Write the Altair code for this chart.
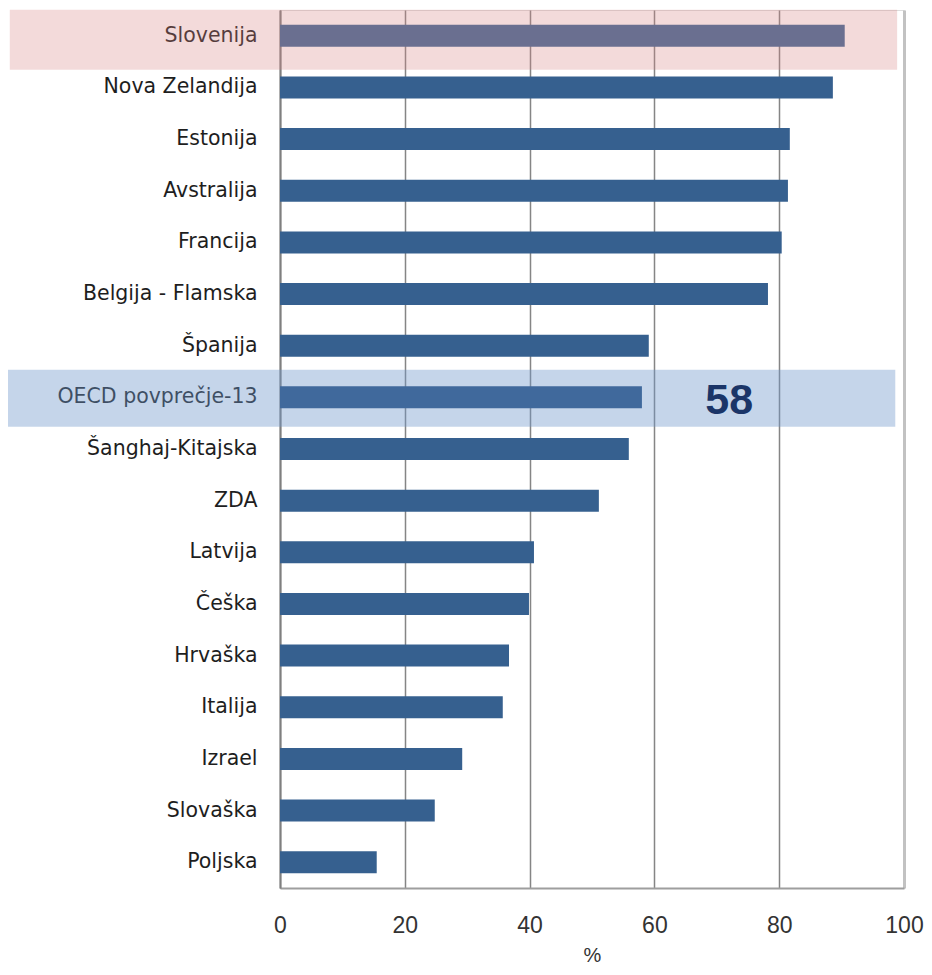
import altair as alt
import pandas as pd

countries = ["Slovenija", "Nova Zelandija", "Estonija", "Avstralija", "Francija",
             "Belgija - Flamska", "Španija", "OECD povprečje-13", "Šanghaj-Kitajska",
             "ZDA", "Latvija", "Češka", "Hrvaška", "Italija", "Izrael", "Slovaška", "Poljska"]
values = [90.5, 88.6, 81.7, 81.4, 80.4, 78.2, 59.1, 58.0, 55.9, 51.1,
          40.7, 39.9, 36.7, 35.7, 29.2, 24.8, 15.5]
highlight_slo = "Slovenija"
highlight_oecd = "OECD povprečje-13"
oecd_label = "58"
x_ticks = [0, 20, 40, 60, 80, 100]

def bar_color(c):
    if c == highlight_slo:
        return "#6A6F90"
    if c == highlight_oecd:
        return "#40699C"
    return "#36608F"

df = pd.DataFrame({"country": countries, "value": values,
                   "color": [bar_color(c) for c in countries]})

y_enc = alt.Y("country:N", sort=countries,
              scale=alt.Scale(paddingInner=0, paddingOuter=0),
              axis=alt.Axis(title=None, ticks=False, labelPadding=23,
                            labelFont="DejaVu Sans", labelFontSize=20.5,
                            labelColor="#1E1E1E", labelLimit=400,
                            domainColor="#7F7F7F", domainWidth=2,
                            grid=False))
x_scale = alt.Scale(domain=[0, 100], nice=False, zero=False)
x_axis = alt.Axis(title="%", values=x_ticks, ticks=False, labelPadding=26,
                  labelFont="Liberation Sans", labelFontSize=23, labelColor="#333333",
                  titleFont="Liberation Sans", titleFontSize=20, titleFontWeight="normal",
                  titleColor="#333333", titlePadding=8,
                  grid=True,
                  gridColor=alt.condition("datum.value === 100", alt.value("#C2C2C2"), alt.value("#858585")),
                  gridWidth=alt.condition("datum.value === 100", alt.value(3), alt.value(1.5)),
                  domainColor="#9E9E9E", domainWidth=2, labelFlush=False)

bands = pd.DataFrame({
    "country": [highlight_slo, highlight_oecd],
    "x0": [-43.3, -43.6],
    "x1": [98.9, 98.6],
})

pink = alt.Chart(bands[bands.country == highlight_slo]).mark_bar(
    size=60, yOffset=4, color="#D78484", opacity=0.3
).encode(y=alt.Y("country:N", sort=countries), x=alt.X("x0:Q", scale=x_scale, axis=x_axis), x2="x1:Q")

blue = alt.Chart(bands[bands.country == highlight_oecd]).mark_bar(
    size=57, yOffset=1, color="#6E96CA", opacity=0.4
).encode(y=alt.Y("country:N", sort=countries), x=alt.X("x0:Q", scale=x_scale), x2="x1:Q")

bars = alt.Chart(df).mark_bar(size=22).encode(
    y=y_enc,
    x=alt.X("value:Q", scale=x_scale, axis=x_axis),
    color=alt.Color("color:N", scale=None),
)

label = alt.Chart(pd.DataFrame({"country": [highlight_oecd], "x": [72], "t": [oecd_label]})).mark_text(
    font="Liberation Sans", fontSize=43, fontWeight="bold", color="#1B3568",
    align="center", baseline="middle", dy=4
).encode(y=alt.Y("country:N", sort=countries), x=alt.X("x:Q", scale=x_scale), text="t:N")

chart = alt.layer(pink, blue, bars, label).properties(
    width=624, height=878,
    autosize=alt.AutoSizeParams(type="none"),
    padding={"left": 272, "top": 2, "right": 20, "bottom": 78},
).configure_view(stroke="#C2C2C2", strokeWidth=3).configure(background="white")

chart.save("out.html", embed_options={"renderer": "svg", "actions": False})
